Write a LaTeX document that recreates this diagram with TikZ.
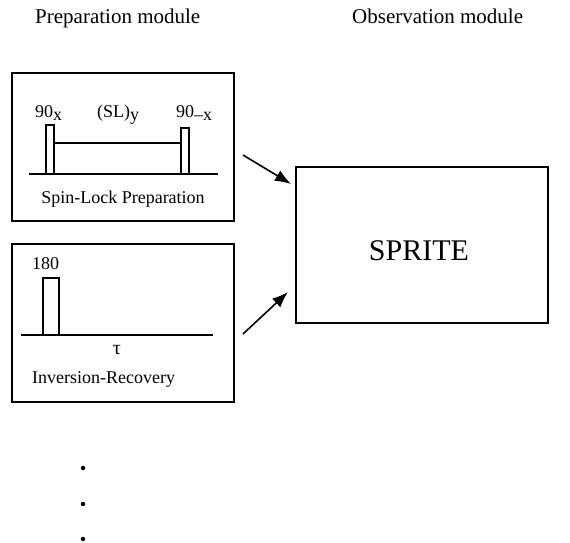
\documentclass[tikz,border=0pt]{standalone}
\usepackage{fontspec}
\setmainfont{Liberation Serif}
\usetikzlibrary{arrows.meta}
\tikzset{
  modbox/.style={draw, line width=1.4pt, inner sep=0pt},
  pulse/.style={draw, line width=1.3pt},
  axis/.style={line width=1.3pt},
  lbl/.style={inner sep=0pt, font=\fontsize{18}{20}\selectfont},
  head/.style={inner sep=0pt, anchor=base west, font=\fontsize{21}{24}\selectfont},
  feed/.style={line width=1.6pt, -{Latex[length=16pt,width=12pt]}},
  dot/.style={circle, fill, inner sep=0pt, minimum size=4.5pt}
}
\newcommand{\lowsub}[1]{\raisebox{-0.45ex}{#1}}
\begin{document}
\begin{tikzpicture}[x=1pt,y=-1pt]
\useasboundingbox (0,0) rectangle (570,543);

% column headings
\node[head] (hprep) at (35,24) {Preparation module};
\node[head] (hobs) at (352,24) {Observation module};

% preparation modules
\node[modbox, minimum width=222pt, minimum height=148pt] (slbox) at (123,147) {};
\node[modbox, minimum width=222pt, minimum height=158pt] (irbox) at (123,323) {};

% observation module
\node[modbox, minimum width=252pt, minimum height=156pt] (sprite) at (422,245) {};
\node[inner sep=0pt, anchor=base, font=\fontsize{30}{34}\selectfont] (spritetxt) at (419,260) {SPRITE};

% spin-lock sequence
\draw[axis] (29,174) -- (218,174);
\draw[pulse] (46,174) rectangle (54,125);
\draw[pulse] (181,174) rectangle (189,128);
\draw[axis] (54,143) -- (181,143);
\node[lbl, anchor=base west] (p90x) at (35,117) {90\lowsub{x}};
\node[lbl, anchor=base west] (psl) at (97,117) {(SL)\lowsub{y}};
\node[lbl, anchor=base west] (p90mx) at (176,117) {90\lowsub{–x}};
\node[lbl, anchor=base] (sltitle) at (123,203) {Spin-Lock Preparation};

% inversion-recovery sequence
\draw[axis] (21,335) -- (213,335);
\draw[pulse] (43,335) rectangle (59,278);
\node[lbl, anchor=base west] (p180) at (32,269) {180};
\node[lbl, anchor=base, font=\fontsize{20}{22}\selectfont] (tau) at (117,354) {τ};
\node[lbl, anchor=base west] (irtitle) at (32,383) {Inversion-Recovery};

% module connections
\coordinate (a1) at (243,155);
\coordinate (t1) at (291,184);
\coordinate (a2) at (243,334);
\coordinate (t2) at (288,292);
\draw[feed] (a1) -- (t1);
\draw[feed] (a2) -- (t2);

% further modules
\node[dot] (d1) at (83,468) {};
\node[dot] (d2) at (83,504) {};
\node[dot] (d3) at (83,539) {};
\end{tikzpicture}
\end{document}
